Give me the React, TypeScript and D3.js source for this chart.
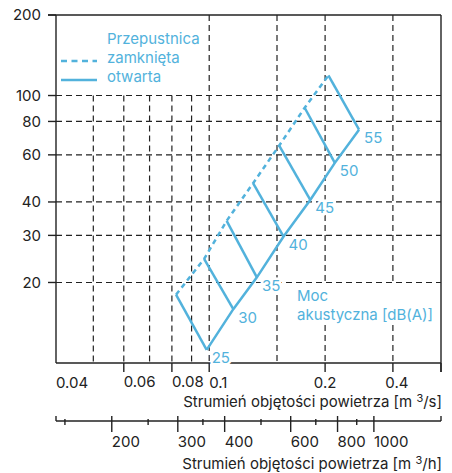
import React from 'react';
import * as d3 from 'd3';

// sound power levels [dB(A)] and their operating points
const levels = [25, 30, 35, 40, 45, 50, 55];
const closedFlow = [0.082, 0.097, 0.111, 0.13, 0.152, 0.177, 0.204];
const closedDp = [18, 24.5, 34, 47, 65, 90, 119];
const openFlow = [0.0985, 0.1155, 0.133, 0.156, 0.183, 0.212, 0.245];
const openDp = [11.2, 15.9, 20.9, 29.7, 40.7, 56, 74.5];

const yTicks = [200, 100, 80, 60, 40, 30, 20];
const yGrid = [100, 80, 60, 40, 30, 20];
const xGridShort = [0.05, 0.06, 0.07, 0.08, 0.09];
const xGridFull = [0.1, 0.15, 0.2, 0.3];
const xTicks = [0.06, 0.08, 0.1, 0.2, 0.3, 0.4];
const xLabelValues = [0.04, 0.06, 0.08, 0.1, 0.2, 0.3];
const xLabelTexts = ['0.04', '0.06', '0.08', '0.1', '0.2', '0.4'];
const hMajor = [200, 300, 400, 600, 800, 1000];
const hMinor = [150, 250, 350, 500, 700, 900];

const W = 452;
const H = 473;
const left = 56, right = 441, top = 15, bottom = 363;
const blue = '#52b2dc';
const ink = '#222';
const font = 'Inter, "Noto Sans", sans-serif';

export default function App() {
  const x = d3.scaleLog().domain([0.04, 0.4]).range([left, right]);
  const y = d3.scaleLog().domain([10, 200]).range([bottom, top]);
  const xh = d3.scaleLog().domain([142, 1510]).range([left, right]);

  const line = d3.line<[number, number]>().x(d => x(d[0])).y(d => y(d[1]));
  const closedPts = closedFlow.map((f, i) => [f, closedDp[i]] as [number, number]);
  const openPts = openFlow.map((f, i) => [f, openDp[i]] as [number, number]);

  const axisY2 = 421;

  const levelLabels = (halo: boolean) => (
    <g fontSize={15} fill={halo ? '#fff' : blue} stroke={halo ? '#fff' : 'none'} strokeWidth={halo ? 5 : 0}>
      {levels.map((l, i) => (
        <text key={'ll' + l} x={x(openFlow[i]) + 5} y={y(openDp[i]) + 8} dy="0.36em">{l}</text>
      ))}
    </g>
  );

  return (
    <svg width={W} height={H} style={{ position: 'absolute', left: 0, top: 0, background: '#fff' }} fontFamily={font}>
      {/* grid */}
      <g stroke={ink} strokeWidth={1.2} strokeDasharray="6,4">
        {yGrid.map(v => (
          <line key={'h' + v} x1={left} x2={right} y1={y(v)} y2={y(v)} />
        ))}
        {xGridShort.map(v => (
          <line key={'s' + v} x1={x(v)} x2={x(v)} y1={y(100)} y2={bottom} />
        ))}
        {xGridFull.map(v => (
          <line key={'f' + v} x1={x(v)} x2={x(v)} y1={top} y2={bottom} />
        ))}
      </g>

      {/* frame */}
      <g stroke={ink} strokeWidth={1.4} fill="none">
        <line x1={left - 8} x2={right} y1={top} y2={top} />
        <line x1={right} x2={right} y1={top} y2={bottom + 9} />
        <line x1={left} x2={left} y1={top} y2={bottom} />
        <line x1={left} x2={right} y1={bottom} y2={bottom} />
        {yTicks.map(v => (
          <line key={'yt' + v} x1={left - 8} x2={left} y1={y(v)} y2={y(v)} />
        ))}
        {xTicks.map(v => (
          <line key={'xt' + v} x1={x(v)} x2={x(v)} y1={bottom} y2={bottom + 9} />
        ))}
      </g>

      {/* y labels */}
      <g fontSize={15} fill={ink} textAnchor="end">
        {yTicks.map(v => (
          <text key={'yl' + v} x={41} y={y(v)} dy="0.36em">{v}</text>
        ))}
      </g>

      {/* x labels m3/s */}
      <g fontSize={15} fill={ink}>
        {xLabelValues.map((v, i) => (
          <text key={'xl' + v} x={x(v) + (i === 5 ? 4 : 0)} y={i === 1 || i === 2 ? 387 : 388}
            textAnchor={i >= 4 ? 'middle' : 'start'}>{xLabelTexts[i]}</text>
        ))}
        <text x={right + 1} y={407} textAnchor="end">Strumień objętości powietrza [m <tspan fontSize={11} dy={-5}>3</tspan><tspan dy={5}>/s]</tspan></text>
      </g>

      {/* second axis m3/h */}
      <g stroke={ink} strokeWidth={1.4} fill="none">
        <line x1={left} x2={right} y1={axisY2} y2={axisY2} />
        <line x1={left} x2={left} y1={axisY2 - 5} y2={axisY2} />
        <line x1={right} x2={right} y1={axisY2 - 5} y2={axisY2} />
        {hMajor.map(v => (
          <line key={'hm' + v} x1={xh(v)} x2={xh(v)} y1={axisY2 - 5} y2={axisY2 + 11} />
        ))}
        {hMinor.map(v => (
          <line key={'hn' + v} x1={xh(v)} x2={xh(v)} y1={axisY2 - 2} y2={axisY2 + 4} />
        ))}
      </g>
      <g fontSize={15} fill={ink}>
        {hMajor.map(v => (
          <text key={'hl' + v} x={xh(v)} y={447}>{v}</text>
        ))}
        <text x={right + 1} y={469} textAnchor="end">Strumień objętości powietrza [m <tspan fontSize={11} dy={-5}>3</tspan><tspan dy={5}>/h]</tspan></text>
      </g>

      {/* knockouts behind labels */}
      {levelLabels(true)}
      <rect x={294} y={285} width={142} height={40} fill="#fff" />

      {/* curves */}
      <g fill="none" stroke={blue} strokeWidth={2.5}>
        <path d={line(closedPts) || ''} strokeDasharray="5,4" />
        <path d={line(openPts) || ''} />
        {levels.map((l, i) => (
          <path key={'lv' + l} d={line([closedPts[i], openPts[i]]) || ''} />
        ))}
      </g>
      {levelLabels(false)}

      {/* annotation */}
      <g fontSize={15} fill={blue}>
        <text x={297} y={296} dy="0.36em">Moc</text>
        <text x={297} y={315} dy="0.36em">akustyczna [dB(A)]</text>
      </g>

      {/* legend */}
      <g stroke={blue} strokeWidth={2.5}>
        <line x1={61} x2={97} y1={61} y2={61} strokeDasharray="6,4.5" />
        <line x1={61} x2={97} y1={80} y2={80} />
      </g>
      <g fontSize={15} fill={blue}>
        <text x={107} y={39} dy="0.36em">Przepustnica</text>
        <text x={107} y={58} dy="0.36em">zamknięta</text>
        <text x={107} y={77} dy="0.36em">otwarta</text>
      </g>
    </svg>
  );
}
